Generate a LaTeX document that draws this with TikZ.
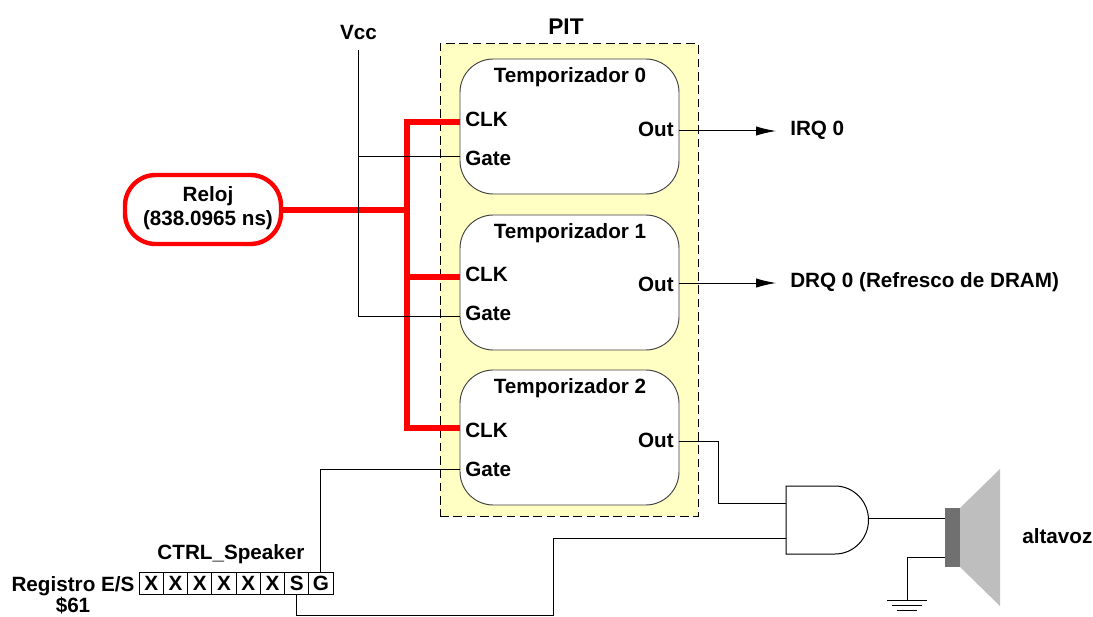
\documentclass[tikz,border=0pt]{standalone}
\usepackage{fontspec}
\setmainfont{Liberation Sans}
\usetikzlibrary{arrows.meta,calc}
\definecolor{pitfill}{RGB}{255,255,196}
\definecolor{spkdark}{RGB}{112,112,112}
\definecolor{spklight}{RGB}{190,190,190}
\tikzset{
  x=0.75pt,y=-0.75pt,
  lbl/.style={inner sep=0pt,font=\fontsize{15.5}{17}\selectfont\bfseries,align=center},
  timer/.style={draw=black!75,line width=0.7pt,fill=white,rounded corners=25pt,minimum width=164.25pt,minimum height=101.25pt,inner sep=0pt},
  wire/.style={draw=black,line width=0.75pt},
  redwire/.style={draw=red,line width=4pt},
  cell/.style={draw=black,line width=0.75pt,minimum width=18.2pt,minimum height=17.2pt,inner sep=0pt,font=\fontsize{15.5}{17}\selectfont\bfseries},
  arrowwire/.style={wire,-{Latex[length=15pt,width=7pt]}}
}
\begin{document}
\begin{tikzpicture}
\useasboundingbox (0,0) rectangle (1093,617);
% PIT
\node[draw=black,dash pattern=on 6.5pt off 3.5pt,line width=0.75pt,fill=pitfill,minimum width=193.5pt,minimum height=354pt,inner sep=0pt] (pit) at (569,280) {};
\node[lbl,font=\fontsize{17}{19}\selectfont\bfseries] (pitl) at (566,27) {PIT};
% timers
\node[timer] (t0) at (569.5,126.5) {};
\node[timer] (t1) at (569.5,282.5) {};
\node[timer] (t2) at (569.5,437.5) {};
\node[lbl] (t0l) at (570,77) {Temporizador 0};
\node[lbl] (t1l) at (570,233) {Temporizador 1};
\node[lbl] (t2l) at (570,388) {Temporizador 2};
\node[lbl,anchor=west] (c0) at (465,119) {CLK};
\node[lbl,anchor=west] (g0) at (465,158) {Gate};
\node[lbl,anchor=east] (o0) at (674,129) {Out};
\node[lbl,anchor=west] (c1) at (465,274) {CLK};
\node[lbl,anchor=west] (g1) at (465,313) {Gate};
\node[lbl,anchor=east] (o1) at (674,284) {Out};
\node[lbl,anchor=west] (c2) at (465,430) {CLK};
\node[lbl,anchor=west] (g2) at (465,469) {Gate};
\node[lbl,anchor=east] (o2) at (674,440) {Out};
% Clock
\node[draw=red,line width=3.3pt,fill=white,rounded corners=23pt,minimum width=117pt,minimum height=51.75pt,inner sep=0pt] (clk) at (203,209.5) {};
\node[lbl] (clkl) at (208,208) {Reloj\\[1pt](838.0965 ns)};
% anchors on the timers
\coordinate (clk0) at (t0.west |- 0,122);
\coordinate (clk1) at (t1.west |- 0,277);
\coordinate (clk2) at (t2.west |- 0,428);
\coordinate (gt0) at (t0.west |- 0,156);
\coordinate (gt1) at (t1.west |- 0,316);
\coordinate (gt2) at (t2.west |- 0,469);
\coordinate (ot0) at (t0.east |- 0,131);
\coordinate (ot1) at (t1.east |- 0,283);
\coordinate (ot2) at (t2.east |- 0,441);
\coordinate (jn) at (407,210);
% red bus
\draw[redwire] (clk.east |- jn) -- (jn);
\draw[redwire,line join=miter] (clk0) -- (407,122) -- (407,428) -- (clk2);
\draw[redwire] (407,277) -- (clk1);
% Vcc
\node[lbl] (vcc) at (358.5,32) {Vcc};
\coordinate (vtop) at (358,50);
\draw[wire] (vtop) -- (358,316) -- (gt1);
\draw[wire] (358,156) -- (gt0);
% outputs
\node[lbl,anchor=west] (irq) at (790,130) {IRQ 0};
\node[lbl,anchor=west] (drq) at (790,282) {DRQ 0 (Refresco de DRAM)};
\draw[arrowwire] (ot0) -- (776,131);
\draw[arrowwire] (ot1) -- (776,283);
% register
\foreach \i/\t in {0/X,1/X,2/X,3/X,4/X,5/X,6/S,7/G}{
  \node[cell] (r\i) at ({151.2+24.25*\i},583.5) {\t};
}
\node[lbl] (ctrl) at (231,554) {CTRL\_Speaker};
\node[lbl] (regl) at (73,586) {Registro E/S};
\node[lbl] (regv) at (73,606) {\$61};
% AND gate
\draw[wire,fill=white] (786,486) -- (835,486) arc[start angle=-90,end angle=90,x radius=33.5,y radius=34] -- (786,554) -- cycle;
\coordinate (and1) at (786,503);
\coordinate (and2) at (786,538);
\coordinate (andout) at (868.5,518);
% speaker
\fill[spklight] (960,508) -- (1000,469) -- (1000,606) -- (960,567) -- cycle;
\node[fill=spkdark,minimum width=11.25pt,minimum height=44.25pt,inner sep=0pt] (spk) at (952.5,537.5) {};
\node[lbl,anchor=west] (alt) at (1022,536) {altavoz};
% wiring
\draw[wire] (r7.north) -- (r7.north |- gt2) -- (gt2);
\draw[wire] (r6.south) -- (r6.south |- 0,615) -- (553,615) -- (553,538) -- (and2);
\draw[wire] (ot2) -- (718,441) -- (718,503) -- (and1);
\draw[wire] (andout) -- (spk.west |- andout);
\coordinate (gndw) at (spk.west |- 0,557);
\coordinate (gnd) at (907,600);
\draw[wire] (gndw) -- (gnd |- gndw) -- (gnd);
\draw[wire] (887,600) -- (927,600);
\draw[wire] (892,605) -- (922,605);
\draw[wire] (897,610) -- (917,610);
\end{tikzpicture}
\end{document}
